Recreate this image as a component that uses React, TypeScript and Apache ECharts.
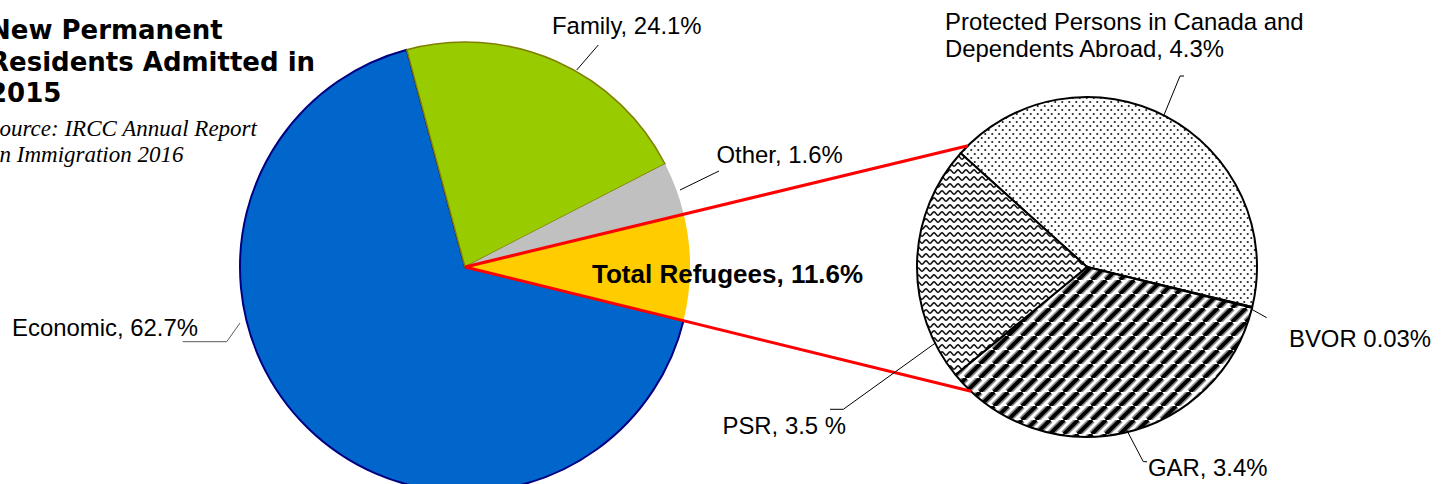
import React, { useEffect, useRef } from "react";
import * as echarts from "echarts";

// ---------- DATA ----------
// Main pie (clockwise from the Economic slice)
const mainNames = ["Economic", "Family", "Other", "Total Refugees"];
const mainLabelPct = [62.7, 24.1, 1.6, 11.6];
// slice sizes as drawn in the picture (share of the full circle, %)
const mainDrawnShare = [67.0, 21.6, 3.8, 7.6];

// Refugee breakdown pie (clockwise from Protected Persons)
const refNames = ["Protected Persons in Canada and Dependents Abroad", "BVOR", "GAR", "PSR"];
const refLabelPct = [4.3, 0.03, 3.4, 3.5];
const refDrawnShare = [42.1, 0.1, 35.2, 22.6];

// ---------- LAYOUT / STYLE ----------
const W = 1443;
const H = 484;
const mainCenter = [465, 267];
const mainRadius = 225;
const mainStartAngle = -13.8;
const refCenter = [1087, 267];
const refRadius = 170;
const refStartAngle = 138;

const LABEL_FONT = '23.9px "Liberation Sans", Arial, sans-serif';
const LABEL_FS = 23.9;

function makePattern(w: number, h: number, draw: (ctx: CanvasRenderingContext2D) => void) {
  const c = document.createElement("canvas");
  c.width = w;
  c.height = h;
  const ctx = c.getContext("2d") as CanvasRenderingContext2D;
  ctx.fillStyle = "#ffffff";
  ctx.fillRect(0, 0, w, h);
  draw(ctx);
  return { image: c, repeat: "repeat" } as any;
}

function dotsPattern() {
  return makePattern(7, 8, (ctx) => {
    ctx.fillStyle = "#202020";
    [[1.75, 2], [5.25, 6]].forEach(([x, y]) => {
      ctx.beginPath();
      ctx.arc(x, y, 1.05, 0, Math.PI * 2);
      ctx.fill();
    });
  });
}

function wavePattern() {
  return makePattern(8, 7, (ctx) => {
    ctx.strokeStyle = "#1a1a1a";
    ctx.lineWidth = 1.6;
    ctx.beginPath();
    for (let x = -0.5; x <= 8.5; x += 0.5) {
      const y = 3.5 + 1.6 * Math.sin((2 * Math.PI * x) / 8);
      if (x === -0.5) ctx.moveTo(x, y);
      else ctx.lineTo(x, y);
    }
    ctx.stroke();
  });
}

function stripePattern() {
  const s = 14;
  return makePattern(s, s, (ctx) => {
    const drawLines = (color: string, lw: number) => {
      ctx.strokeStyle = color;
      ctx.lineWidth = lw;
      for (let k = -1; k <= 1; k++) {
        ctx.beginPath();
        ctx.moveTo(k * s, s);
        ctx.lineTo(k * s + s, 0);
        ctx.stroke();
      }
    };
    drawLines("#8a8a8a", 7);
    drawLines("#000000", 3.8);
  });
}

// Intersection of a ray from c1 at clock angle theta (deg, clockwise from north) with circle (c2, r)
function rayCircle(c1: number[], thetaDeg: number, c2: number[], r: number) {
  const t = (thetaDeg * Math.PI) / 180;
  const d = [Math.sin(t), -Math.cos(t)];
  const f = [c1[0] - c2[0], c1[1] - c2[1]];
  const b = f[0] * d[0] + f[1] * d[1];
  const c = f[0] * f[0] + f[1] * f[1] - r * r;
  const disc = Math.max(0, b * b - c);
  const s = -b - Math.sqrt(disc);
  return [c1[0] + s * d[0], c1[1] + s * d[1]];
}

function textEl(text: string, x: number, centerY: number, font: string, extra: any = {}) {
  return {
    type: "text",
    z: 100,
    silent: true,
    style: {
      text,
      x,
      y: centerY,
      font,
      fill: "#000000",
      textAlign: "left",
      align: "left",
      textVerticalAlign: "middle",
      verticalAlign: "middle",
      ...extra,
    },
  };
}

function lineEl(points: number[][], stroke = "#000000", lineWidth = 1) {
  return {
    type: "polyline",
    z: 100,
    silent: true,
    shape: { points },
    style: { stroke, lineWidth, fill: "none" },
  };
}

export default function App() {
  const ref = useRef<HTMLDivElement>(null);

  useEffect(() => {
    if (!ref.current) return;
    const chart = echarts.init(ref.current, null, { renderer: "svg", width: W, height: H });

    const mainColors = ["#0066CC", "#99CC00", "#C0C0C0", "#FFCC00"];
    const mainBorders = [
      { borderColor: "#000080", borderWidth: 2 },
      { borderColor: "#808000", borderWidth: 1.5 },
      { borderColor: "#C0C0C0", borderWidth: 0 },
      { borderColor: "#FFCC00", borderWidth: 0 },
    ];
    const refFills = [dotsPattern(), "#ffffff", stripePattern(), wavePattern()];

    // refugee slice edges (clock angle) derived from the main pie's data
    const total = mainDrawnShare.reduce((a, b) => a + b, 0);
    const refIdx = mainNames.indexOf("Total Refugees");
    let startClock = 90 - mainStartAngle;
    for (let i = 0; i < refIdx; i++) startClock += (mainDrawnShare[i] / total) * 360;
    const endClock = startClock + (mainDrawnShare[refIdx] / total) * 360;
    const pTop = rayCircle(mainCenter, startClock, refCenter, refRadius);
    const pBot = rayCircle(mainCenter, endClock, refCenter, refRadius);

    // label texts
    const mainText = mainNames.map((n, i) => `${n}, ${mainLabelPct[i]}%`);
    const protectedParts = refNames[0].split(" Dependents");
    const refText = [
      `${protectedParts[0]}\nDependents${protectedParts[1]}, ${refLabelPct[0]}%`,
      `${refNames[1]} ${refLabelPct[1]}%`,
      `${refNames[2]}, ${refLabelPct[2]}%`,
      `${refNames[3]}, ${refLabelPct[3]} %`,
    ];

    // label positions: [x, baseline]
    const mainLabelPos = [
      [12, 336],
      [552, 34],
      [716.5, 162.7],
      [592, 283.3],
    ];
    const refLabelPos = [
      [945, 30],
      [1289, 346.7],
      [1148, 476],
      [722.5, 434],
    ];
    const mainLeaders = [
      [[240, 323], [226.7, 341.7], [182.7, 341.7]],
      [[576.7, 70], [598.3, 45]],
      [[680, 190], [719, 171]],
      null,
    ];
    const refLeaders = [
      [[1163.3, 116.7], [1180, 76], [1184, 76]],
      [[1251.7, 309.3], [1266.7, 317.7]],
      [[1126.7, 430], [1143.3, 461.7], [1147, 461.7]],
      [[935, 343.3], [843.3, 409.3], [830, 409.3]],
    ];

    const graphics: any[] = [];
    // title and source
    graphics.push(
      textEl("New Permanent\nResidents Admitted in\n2015", -11, 61.5, 'bold 26px "DejaVu Sans", Verdana, sans-serif', {
        lineHeight: 31.5,
      })
    );
    graphics.push(
      textEl("Source: IRCC Annual Report\non Immigration 2016", -12, 141.2, 'italic 23px "Liberation Serif", "Times New Roman", serif', {
        lineHeight: 26,
      })
    );

    mainText.forEach((t, i) => {
      const isBold = mainNames[i] === "Total Refugees";
      const fs = isBold ? 26 : LABEL_FS;
      const font = isBold ? 'bold 26px "Liberation Sans", Arial, sans-serif' : LABEL_FONT;
      graphics.push(textEl(t, mainLabelPos[i][0], mainLabelPos[i][1] - 0.347 * fs, font));
      const ld = mainLeaders[i];
      if (ld) graphics.push(lineEl(ld, i === 0 ? "#595959" : "#000000", 1));
    });

    refText.forEach((t, i) => {
      const lines = t.split("\n").length;
      const lh = 27;
      const firstCenter = refLabelPos[i][1] - 0.347 * LABEL_FS;
      const cy = firstCenter + ((lines - 1) * lh) / 2;
      graphics.push(textEl(t, refLabelPos[i][0], cy, LABEL_FONT, { lineHeight: lh }));
      graphics.push(lineEl(refLeaders[i], "#000000", 1));
    });

    // red connector lines along the refugee slice edges
    graphics.push({
      type: "line",
      z: 90,
      silent: true,
      shape: { x1: mainCenter[0], y1: mainCenter[1], x2: pTop[0], y2: pTop[1] },
      style: { stroke: "#FF0000", lineWidth: 3 },
    });
    graphics.push({
      type: "line",
      z: 90,
      silent: true,
      shape: { x1: mainCenter[0], y1: mainCenter[1], x2: pBot[0], y2: pBot[1] },
      style: { stroke: "#FF0000", lineWidth: 3 },
    });

    chart.setOption({
      animation: false,
      backgroundColor: "#ffffff",
      series: [
        {
          type: "pie",
          silent: true,
          center: mainCenter,
          radius: [0, mainRadius],
          startAngle: mainStartAngle,
          clockwise: true,
          avoidLabelOverlap: false,
          label: { show: false },
          labelLine: { show: false },
          emphasis: { disabled: true },
          data: mainNames.map((n, i) => ({
            name: n,
            value: mainDrawnShare[i],
            itemStyle: { color: mainColors[i], ...mainBorders[i] },
          })),
        },
        {
          type: "pie",
          silent: true,
          center: refCenter,
          radius: [0, refRadius],
          startAngle: refStartAngle,
          clockwise: true,
          minAngle: 0,
          avoidLabelOverlap: false,
          label: { show: false },
          labelLine: { show: false },
          emphasis: { disabled: true },
          data: refNames.map((n, i) => ({
            name: n,
            value: refDrawnShare[i],
            itemStyle: { color: refFills[i], borderColor: "#000000", borderWidth: 2 },
          })),
        },
      ],
      graphic: graphics,
    });

    return () => {
      chart.dispose();
    };
  }, []);

  return (
    <div
      ref={ref}
      style={{ position: "absolute", left: 0, top: 0, width: W, height: H, background: "#ffffff" }}
    />
  );
}
